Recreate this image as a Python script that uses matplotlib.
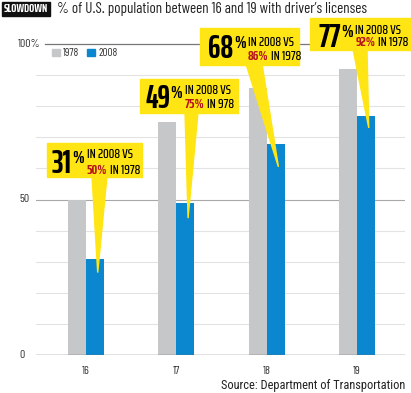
import matplotlib
matplotlib.use("Agg")
import matplotlib.pyplot as plt
from matplotlib.patches import Rectangle, Polygon
import numpy as np

# data
ages = ['16', '17', '18', '19']
pct_1978 = [50, 75, 86, 92]
pct_2008 = [31, 49, 68, 77]
line2_rest = ['IN 1978', 'IN 978', 'IN 1978', 'IN 1978']
ytick_vals = [100, 50, 0]
ytick_labels = ['100%', '50', '0']

W, H = 411, 393
COND = ['Barlow Condensed', 'DejaVu Sans']
XCOND = ['Saira ExtraCondensed', 'Barlow Condensed', 'DejaVu Sans']
GRAY = '#c6c7c9'
BLUE = '#0a87cf'
YELLOW = '#ffe513'
RED = '#b8161d'

fig = plt.figure(figsize=(W / 100, H / 100), dpi=100)
fig.patch.set_facecolor('white')
renderer = fig.canvas.get_renderer()

# axes placed by pixels (x from left, y from top)
ax_l, ax_r, ax_t, ax_b = 36, 405, 44, 355
ax = fig.add_axes([ax_l / W, 1 - ax_b / H, (ax_r - ax_l) / W, (ax_b - ax_t) / H])
ax.set_ylim(0, 100)
ax.set_xlim(-0.553, 3.531)
ax.axis('off')


def fp(x, y):
    # pixel (from top-left) -> figure fraction
    return (x / W, 1 - y / H)


def fit(t, target_w):
    # shrink/grow a text so it spans target_w pixels
    w = t.get_window_extent(renderer).width
    t.set_fontsize(t.get_fontsize() * target_w / w)
    return t


# gridlines
for v in range(10, 100, 10):
    c = '#a8a8a8' if v == 50 else '#e3e3e3'
    ax.axhline(v, color=c, lw=0.8, zorder=0)
ax.axhline(100, xmin=(45 - ax_l) / (ax_r - ax_l), xmax=1, color='#777777', lw=0.9, clip_on=False)
ax.axhline(0, color='#666666', lw=1.0, zorder=3)

x = np.arange(len(ages))
w = 0.2
ax.bar(x - w / 2, pct_1978, width=w, color=GRAY, zorder=2)
ax.bar(x + w / 2, pct_2008, width=w, color=BLUE, zorder=2)

# y labels
for v, lab, px in zip(ytick_vals, ytick_labels, [41, 30, 25]):
    yy = ax.transData.transform((0, v))[1] / H
    fig.text(px / W, yy, lab, ha='right', va='center', fontsize=8.5, family=COND, color='#333333')

# x tick labels
for i, a in enumerate(ages):
    ax.text(i, -5, a, ha='center', va='center', fontsize=8.5, family=COND, color='#333333', clip_on=False)

# title
fig.add_artist(Rectangle(fp(2, 16), 48 / W, 14 / H, transform=fig.transFigure, color='#111111'))
t = fig.text(*fp(26, 9), 'SLOWDOWN', ha='center', va='center', fontsize=9, weight='bold',
             family=XCOND, color='white')
fit(t, 44)
t = fig.text(*fp(57, 9.5), "% of U.S. population between 16 and 19 with driver\u2019s licenses", ha='left',
             va='center', fontsize=10.5, family=COND, color='#222222')
fit(t, 311)

# legend
fig.add_artist(Rectangle(fp(52, 56), 8 / W, 7 / H, transform=fig.transFigure, color=GRAY))
fig.text(*fp(63, 52.5), '1978', ha='left', va='center', fontsize=8, family=COND, color='#333333')
fig.add_artist(Rectangle(fp(87, 56), 8 / W, 7 / H, transform=fig.transFigure, color=BLUE))
fig.text(*fp(98, 52.5), '2008', ha='left', va='center', fontsize=8, family=COND, color='#333333')

# callouts: box (x0, y0, x1, y1), big number (left, baseline), line centres, pointer base
boxes = [(47, 143, 142, 177), (140, 79, 238, 113), (200, 28, 299, 65), (310, 18, 411, 50)]
big_pos = [(52, 173), (145, 108), (208, 58), (318, 47)]
line_y = [(155, 170), (90, 105), (42, 57), (30, 43)]
base = [(92, 107), (185, 198), (246, 262), (353, 367)]
tip_drop = [4.5, 5, 7.5, 4]

for i in range(len(ages)):
    x0, y0, x1, y1 = boxes[i]
    tip = ax.transData.transform((i + w / 2 + 0.03, pct_2008[i] - tip_drop[i]))
    tip = (tip[0] / W, tip[1] / H)
    poly = Polygon([fp(base[i][0], y1 - 1), fp(base[i][1], y1 - 1), tip], closed=True,
                   transform=fig.transFigure, color=YELLOW, zorder=5)
    fig.add_artist(poly)
    fig.add_artist(Rectangle(fp(x0, y1), (x1 - x0) / W, (y1 - y0) / H, transform=fig.transFigure,
                             color=YELLOW, zorder=5))
    t = fig.text(*fp(*big_pos[i]), str(pct_2008[i]), ha='left', va='baseline', fontsize=23,
                 weight='bold', family=XCOND, color='black', zorder=6)
    bb = t.get_window_extent(renderer)
    p = fig.text((bb.x1 + 0.5) / W, fp(0, big_pos[i][1] - 23)[1], '%', ha='left', va='top',
                 fontsize=13, weight='bold', family=XCOND, color='black', zorder=6)
    pb = p.get_window_extent(renderer)
    lx = (pb.x1 + 2.5) / W
    l1 = fig.text(lx, fp(0, line_y[i][0])[1], 'IN 2008 VS', ha='left', va='center', fontsize=10,
                  weight='medium', family=XCOND, color='black', zorder=6)
    fit(l1, 46)
    fs = l1.get_fontsize()
    r = fig.text(lx, fp(0, line_y[i][1])[1], '%d%%' % pct_1978[i], ha='left', va='center', fontsize=fs,
                 weight='bold', family=XCOND, color=RED, zorder=6)
    rb = r.get_window_extent(renderer)
    fig.text((rb.x1 + 2.5) / W, fp(0, line_y[i][1])[1], line2_rest[i], ha='left', va='center',
             fontsize=fs, weight='medium', family=XCOND, color='black', zorder=6)

# source
t = fig.text(*fp(405, 385), 'Source: Department of Transportation', ha='right', va='center',
             fontsize=9, family=['Roboto Condensed', 'DejaVu Sans'], color='#222222')
fit(t, 186)

fig.savefig('out.png', dpi=100)
